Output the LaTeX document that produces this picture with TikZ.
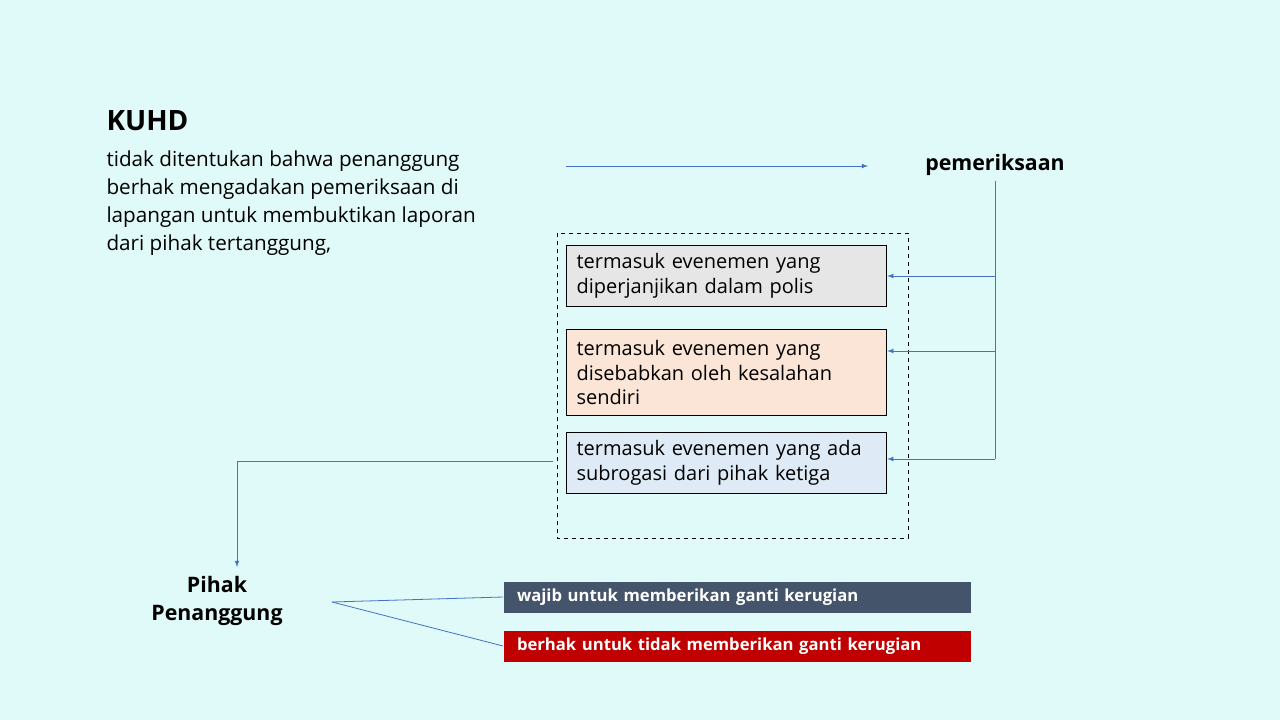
\documentclass[tikz,border=0pt]{standalone}
\usepackage{fontspec}
\setmainfont{Open Sans}
\definecolor{bgcyan}{RGB}{223,250,248}
\definecolor{linkblue}{RGB}{68,114,196}
\definecolor{boxgray}{RGB}{230,230,230}
\definecolor{boxpeach}{RGB}{251,229,214}
\definecolor{boxblue}{RGB}{222,235,247}
\definecolor{darkslate}{RGB}{68,84,106}
\definecolor{darkred}{RGB}{192,0,0}
\tikzset{every picture/.style={line width=0.75pt}}
\tikzset{
  link/.style={draw=linkblue,line width=0.6pt},
  arr/.style={link,-latex},
  casebox/.style={draw=black,line width=0.9pt,minimum width=318*0.75pt,align=left,anchor=north west,
    inner xsep=7.5pt,font=\fontsize{15}{18.5}\selectfont,text width=300*0.75pt},
  tagbox/.style={minimum width=467*0.75pt,minimum height=31*0.75pt,anchor=north west,inner xsep=7pt,
    text=white,font=\fontsize{12.5}{15}\selectfont\bfseries,text width=440*0.75pt,align=left}
}

\begin{document}
\begin{tikzpicture}[x=0.75pt,y=0.75pt,yscale=-1,xscale=1]
\useasboundingbox[fill=bgcyan] (0,0) rectangle (1280,720);
% heading and description
\node[anchor=base west,inner sep=0,font=\fontsize{21}{25}\selectfont\bfseries] (kuhd) at (106,131) {KUHD};
\node[anchor=north west,inner sep=0,align=left,font=\fontsize{15.5}{21}\selectfont] (desc) at (106,150)
  {tidak ditentukan bahwa penanggung\\berhak mengadakan pemeriksaan di\\lapangan untuk membuktikan laporan\\dari pihak tertanggung,};
% pemeriksaan
\node[font=\fontsize{16}{19}\selectfont\bfseries] (periksa) at (995,165) {pemeriksaan};
\coordinate (aStart) at (566,166);
\coordinate (aEnd) at (868,166);
\draw[arr] (aStart) -- (aEnd);
% dashed group and cases
\draw[dashed,line width=0.7pt] (557,233) rectangle (908,538);
\node[casebox,fill=boxgray,minimum height=61*0.75pt] (case1) at (566,245)
  {termasuk evenemen yang\\diperjanjikan dalam polis};
\node[casebox,fill=boxpeach,minimum height=86*0.75pt] (case2) at (566,329)
  {termasuk evenemen yang\\disebabkan oleh kesalahan\\sendiri};
\node[casebox,fill=boxblue,minimum height=61*0.75pt] (case3) at (566,432)
  {termasuk evenemen yang ada\\subrogasi dari pihak ketiga};
% branches from pemeriksaan
\coordinate (trunk) at (995,459);
\draw[link] (periksa.south) -- (trunk);
\draw[arr] (995,276) -- (case1.east |- 0,276);
\draw[arr] (995,351) -- (case2.east |- 0,351);
\draw[arr] (trunk) -- (case3.east |- trunk);
% pihak penanggung
\node[align=center,font=\fontsize{16}{21}\selectfont\bfseries] (pihak) at (217,601) {Pihak\\Penanggung};
\coordinate (bend) at (237,461);
\draw[arr] (553,461) -- (bend) -- (237,567);
\node[tagbox,fill=darkslate] (wajib) at (503,581) {wajib untuk memberikan ganti kerugian};
\node[tagbox,fill=darkred] (berhak) at (503,630) {berhak untuk tidak memberikan ganti kerugian};
\coordinate (fork) at (332,602);
\draw[link] (fork) -- (wajib.west);
\draw[link] (fork) -- (berhak.west);
\end{tikzpicture}
\end{document}
